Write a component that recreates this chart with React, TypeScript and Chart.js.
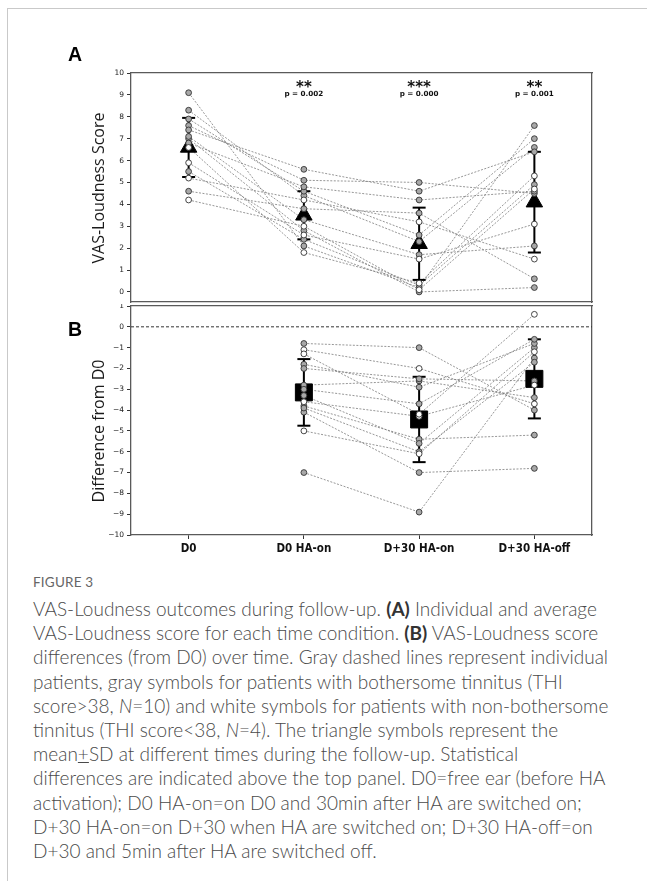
import React, { useEffect, useRef } from 'react';
import { Chart, registerables } from 'chart.js';

Chart.register(...registerables);

// ---------- data ----------
const categories = ['D0', 'D0 HA-on', 'D+30 HA-on', 'D+30 HA-off'];

// one entry per patient (N = 14); true = non-bothersome tinnitus (white symbols)
const nonBothersome = [false, false, false, false, true, false, false, false, false, false, true, false, true, true];

// Panel A : VAS-Loudness score
const vasD0 = [9.1, 4.6, 7.0, 7.1, 6.6, 8.3, 7.9, 7.6, 7.4, 6.8, 5.9, 5.5, 5.2, 4.2];
const vasD0HAon = [2.1, 3.8, 2.8, 3.3, 1.8, 4.4, 4.6, 5.1, 5.6, 4.8, 2.6, 2.4, 4.2, 3.0];
const vasD30HAon = [0.2, 3.6, 0.0, 1.7, 0.4, 2.3, 2.6, 5.0, 4.6, 4.2, 1.5, 0.3, 3.2, 0.1];
const vasD30HAoff = [7.6, 0.6, 0.2, 2.1, 5.3, 6.6, 7.0, 4.5, 6.4, 4.6, 3.1, 4.9, 1.5, 4.7];
const vasMean = [6.6, 3.5, 2.2, 4.1];
const vasSD = [1.35, 1.1, 1.65, 2.3];

// Panel B : difference from D0
const diffD0HAon = [-7.0, -0.8, -4.1, -3.8, -5.0, -3.9, -3.3, -2.8, -1.8, -2.0, -3.6, -3.0, -1.1, -1.3];
const diffD30HAon = [-8.9, -1.0, -7.0, -5.4, -6.1, -6.0, -5.6, -2.6, -2.9, -2.5, -4.3, -3.7, -2.0, -4.2];
const diffD30HAoff = [-1.5, -4.0, -6.8, -5.2, -1.2, -1.7, -1.0, -3.4, -0.8, -2.6, -2.8, -0.6, -3.7, 0.6];
const diffMean = [-3.15, -4.45, -2.5];
const diffSD = [1.6, 2.05, 1.9];

// statistics shown above panel A
const stars = ['', '**', '***', '**'];
const pValues = ['', 'p = 0.002', 'p = 0.000', 'p = 0.001'];

// axis ranges / ticks
const vasAxisMin = -0.46;
const vasAxisMax = 10;
const diffAxisMin = -10;
const diffAxisMax = 1;

// ---------- layout ----------
const W = 647;
const PLOT_LEFT = 131;
const PLOT_RIGHT = 592;
const A_TOP = 73;
const A_BOTTOM = 302;
const A_CANVAS_H = 304;
const B_CANVAS_TOP = 304;
const B_TOP = 306;
const B_BOTTOM = 535;
const B_CANVAS_H = 256;

const FRAME = '#5a5a5a';
const LINE_GRAY = '#7c7c7c';
const TICK_FONT = { family: '"DejaVu Sans", sans-serif', size: 7.5 };

const zeroPad = (s: any) => {
  s.paddingTop = 0;
  s.paddingBottom = 0;
  s.paddingLeft = 0;
  s.paddingRight = 0;
};

function patientLines(cols: number[][], xs: number[]) {
  return cols[0].map((_, i) => ({
    data: xs.map((x, j) => ({ x, y: cols[j][i] })),
    showLine: true,
    borderColor: LINE_GRAY,
    borderWidth: 0.8,
    borderDash: [2, 1.5],
    pointRadius: 0,
    pointHoverRadius: 0,
    xAxisID: 'x',
    yAxisID: 'y',
    order: 20,
  }));
}

function patientPoints(cols: number[][], xs: number[], white: boolean) {
  const data: { x: number; y: number }[] = [];
  cols.forEach((col, j) =>
    col.forEach((v, i) => {
      if (nonBothersome[i] === white) data.push({ x: xs[j], y: v });
    })
  );
  return {
    data,
    showLine: false,
    pointStyle: 'circle',
    pointRadius: 2.9,
    pointHoverRadius: 2.9,
    pointBackgroundColor: white ? '#ffffff' : '#a8a8a8',
    pointBorderColor: '#333333',
    pointBorderWidth: 0.9,
    xAxisID: 'x',
    yAxisID: 'y',
    order: white ? 0 : 1,
  };
}

function sdBars(means: number[], sds: number[], xs: number[]) {
  const data: { x: number; y: number | null }[] = [];
  means.forEach((m, j) => {
    data.push({ x: xs[j], y: m - sds[j] }, { x: xs[j], y: m + sds[j] }, { x: xs[j], y: null });
  });
  return {
    data,
    showLine: true,
    spanGaps: false,
    borderColor: '#000',
    borderWidth: 2,
    pointStyle: 'line',
    pointRadius: 6.5,
    pointHoverRadius: 6.5,
    pointBorderColor: '#000',
    pointBorderWidth: 2,
    xAxisID: 'x',
    yAxisID: 'y',
    order: 6,
  };
}

function meanMarkers(means: number[], xs: number[], style: string, radius: number) {
  return {
    data: means.map((m, j) => ({ x: xs[j], y: m })),
    showLine: false,
    pointStyle: style,
    pointRadius: radius,
    pointHoverRadius: radius,
    pointBackgroundColor: '#000',
    pointBorderColor: '#000',
    pointBorderWidth: 1,
    xAxisID: 'x',
    yAxisID: 'y',
    order: 5,
  };
}

function frameAxis(position: string, min: number, max: number) {
  return {
    type: 'linear',
    position,
    min,
    max,
    display: true,
    ticks: { display: false },
    grid: { display: false },
    border: { display: true, color: FRAME, width: 1.3 },
    afterFit: (s: any) => {
      if (position === 'top' || position === 'bottom') s.height = 0;
      else s.width = 0;
      zeroPad(s);
    },
  };
}

const categoryTicks = (axis: any) => {
  axis.ticks = categories.map((_, i) => ({ value: i }));
};

const pvalPlugin = {
  id: 'pvals',
  afterDatasetsDraw(chart: any) {
    const { ctx, chartArea } = chart;
    const x = chart.scales.x;
    ctx.save();
    ctx.fillStyle = '#111';
    ctx.textAlign = 'center';
    ctx.textBaseline = 'alphabetic';
    stars.forEach((s, i) => {
      if (!s) return;
      const px = x.getPixelForValue(i);
      ctx.font = 'bold 15px "DejaVu Sans"';
      ctx.fillText(s, px, chartArea.top + 19);
      ctx.font = 'bold 7.2px "DejaVu Sans"';
      ctx.fillText(pValues[i], px, chartArea.top + 22.5);
    });
    ctx.restore();
  },
};

function configA(): any {
  const xs = [0, 1, 2, 3];
  const cols = [vasD0, vasD0HAon, vasD30HAon, vasD30HAoff];
  return {
    type: 'scatter',
    data: {
      datasets: [
        ...patientLines(cols, xs),
        sdBars(vasMean, vasSD, xs),
        meanMarkers(vasMean, xs, 'triangle', 9.5),
        patientPoints(cols, xs, false),
        patientPoints(cols, xs, true),
      ],
    },
    options: {
      responsive: false,
      animation: false,
      events: [],
      layout: { autoPadding: false, padding: { top: A_TOP, right: W - PLOT_RIGHT, left: 0, bottom: 0 } },
      plugins: { legend: { display: false }, tooltip: { enabled: false } },
      scales: {
        x: {
          type: 'linear',
          position: 'bottom',
          min: -0.5,
          max: 3.5,
          afterBuildTicks: categoryTicks,
          ticks: { display: false },
          grid: { display: false },
          border: { display: true, color: FRAME, width: 1.3 },
          afterFit: (s: any) => {
            s.height = A_CANVAS_H - A_BOTTOM;
            zeroPad(s);
          },
        },
        xTop: frameAxis('top', -0.5, 3.5),
        y: {
          type: 'linear',
          position: 'left',
          min: vasAxisMin,
          max: vasAxisMax,
          ticks: { stepSize: 1, includeBounds: false, font: TICK_FONT, color: '#222', padding: 3 },
          grid: { display: true, drawOnChartArea: false, drawTicks: true, tickLength: 4, color: '#333', lineWidth: 1 },
          border: { display: true, color: FRAME, width: 1.3 },
          afterFit: (s: any) => {
            s.width = PLOT_LEFT;
            zeroPad(s);
          },
        },
        yRight: frameAxis('right', vasAxisMin, vasAxisMax),
      },
    },
    plugins: [pvalPlugin],
  };
}

function configB(): any {
  const xs = [1, 2, 3];
  const cols = [diffD0HAon, diffD30HAon, diffD30HAoff];
  return {
    type: 'scatter',
    data: {
      datasets: [
        {
          data: [
            { x: -0.5, y: 0 },
            { x: 3.5, y: 0 },
          ],
          showLine: true,
          borderColor: '#333',
          borderWidth: 1,
          borderDash: [3, 2],
          pointRadius: 0,
          pointHoverRadius: 0,
          xAxisID: 'x',
          yAxisID: 'y',
          order: 30,
        },
        ...patientLines(cols, xs),
        sdBars(diffMean, diffSD, xs),
        meanMarkers(diffMean, xs, 'rect', 12),
        patientPoints(cols, xs, false),
        patientPoints(cols, xs, true),
      ],
    },
    options: {
      responsive: false,
      animation: false,
      events: [],
      layout: { autoPadding: false, padding: { top: B_TOP - B_CANVAS_TOP, right: W - PLOT_RIGHT, left: 0, bottom: 0 } },
      plugins: { legend: { display: false }, tooltip: { enabled: false } },
      scales: {
        x: {
          type: 'linear',
          position: 'bottom',
          min: -0.5,
          max: 3.5,
          afterBuildTicks: categoryTicks,
          ticks: {
            display: true,
            autoSkip: false,
            maxRotation: 0,
            padding: 3,
            color: '#111',
            font: { family: '"Liberation Sans Narrow", "DejaVu Sans Condensed", "Liberation Sans", sans-serif', size: 11.5, weight: 'bold' },
            callback: (v: any) => categories[v] ?? '',
          },
          grid: { display: true, drawOnChartArea: false, drawTicks: true, tickLength: 4, color: '#333', lineWidth: 1 },
          border: { display: true, color: FRAME, width: 1.3 },
          afterFit: (s: any) => {
            s.height = B_CANVAS_TOP + B_CANVAS_H - B_BOTTOM;
            zeroPad(s);
          },
        },
        xTop: frameAxis('top', -0.5, 3.5),
        y: {
          type: 'linear',
          position: 'left',
          min: diffAxisMin,
          max: diffAxisMax,
          ticks: {
            stepSize: 1,
            font: TICK_FONT,
            color: '#222',
            padding: 3,
            callback: (v: any) => (v < 0 ? '\u2212' + Math.abs(v) : String(v)),
          },
          grid: { display: true, drawOnChartArea: false, drawTicks: true, tickLength: 4, color: '#333', lineWidth: 1 },
          border: { display: true, color: FRAME, width: 1.3 },
          afterFit: (s: any) => {
            s.width = PLOT_LEFT;
            zeroPad(s);
          },
        },
        yRight: frameAxis('right', diffAxisMin, diffAxisMax),
      },
    },
  };
}

function ChartCanvas({ config, top, height }: { config: () => any; top: number; height: number }) {
  const ref = useRef<HTMLCanvasElement | null>(null);
  useEffect(() => {
    if (!ref.current) return;
    const chart = new Chart(ref.current, config());
    return () => chart.destroy();
  }, [config]);
  return (
    <canvas
      ref={ref}
      width={W}
      height={height}
      style={{ position: 'absolute', left: 0, top, width: W, height, display: 'block' }}
    />
  );
}

const captionLines: { t: string; b?: boolean; i?: boolean; u?: boolean }[][] = [
  [{ t: 'VAS-Loudness outcomes during follow-up. ' }, { t: '(A)', b: true }, { t: ' Individual and average' }],
  [{ t: 'VAS-Loudness score for each time condition. ' }, { t: '(B)', b: true }, { t: ' VAS-Loudness score' }],
  [{ t: 'differences (from D0) over time. Gray dashed lines represent individual' }],
  [{ t: 'patients, gray symbols for patients with bothersome tinnitus (THI' }],
  [{ t: 'score>38, ' }, { t: 'N', i: true }, { t: '=10) and white symbols for patients with non-bothersome' }],
  [{ t: 'tinnitus (THI score<38, ' }, { t: 'N', i: true }, { t: '=4). The triangle symbols represent the' }],
  [{ t: 'mean' }, { t: '+', u: true }, { t: 'SD at different times during the follow-up. Statistical' }],
  [{ t: 'differences are indicated above the top panel. D0=free ear (before HA' }],
  [{ t: 'activation); D0 HA-on=on D0 and 30min after HA are switched on;' }],
  [{ t: 'D+30 HA-on=on D+30 when HA are switched on; D+30 HA-off=on' }],
  [{ t: 'D+30 and 5min after HA are switched off.' }],
];

const yTitleStyle: React.CSSProperties = {
  position: 'absolute',
  left: 98,
  transform: 'translate(-50%, -50%) rotate(-90deg)',
  whiteSpace: 'nowrap',
  fontFamily: '"Open Sans", sans-serif',
  fontSize: 16,
  lineHeight: '16px',
  color: '#1a1a1a',
};

const letterStyle: React.CSSProperties = {
  position: 'absolute',
  left: 68,
  fontFamily: '"Liberation Sans", Arial, sans-serif',
  fontWeight: 'bold',
  fontSize: 19.5,
  lineHeight: '19.5px',
  color: '#000',
};

export default function App() {
  return (
    <div
      style={{
        position: 'absolute',
        left: 0,
        top: 0,
        width: W,
        height: 881,
        overflow: 'hidden',
        background: '#fff',
      }}
    >
      <div
        style={{
          position: 'absolute',
          left: 7,
          top: 8,
          width: W,
          height: 900,
          borderLeft: '1px solid #c9c9c9',
          borderTop: '1px solid #c9c9c9',
        }}
      />
      <ChartCanvas config={configA} top={0} height={A_CANVAS_H} />
      <ChartCanvas config={configB} top={B_CANVAS_TOP} height={B_CANVAS_H} />
      <div style={{ ...letterStyle, top: 44.7 }}>A</div>
      <div style={{ ...letterStyle, top: 319.5 }}>B</div>
      <div style={{ ...yTitleStyle, top: 187.5 }}>VAS-Loudness Score</div>
      <div style={{ ...yTitleStyle, top: 431 }}>Difference from D0</div>
      <div
        style={{
          position: 'absolute',
          left: 33,
          top: 574,
          fontFamily: 'Lato, "Open Sans", sans-serif',
          fontSize: 13.5,
          lineHeight: '16px',
          color: '#666',
          letterSpacing: 0.2,
        }}
      >
        FIGURE 3
      </div>
      <div
        style={{
          position: 'absolute',
          left: 33,
          top: 597,
          fontFamily: 'Lato, "Open Sans", sans-serif',
          fontWeight: 300,
          fontSize: 19,
          color: '#4a4a4a',
        }}
      >
        {captionLines.map((line, k) => (
          <div key={k} style={{ whiteSpace: 'nowrap', height: 24.2, lineHeight: '24.2px' }}>
            {line.map((seg, m) => (
              <span
                key={m}
                style={{
                  fontWeight: seg.b ? 700 : undefined,
                  fontStyle: seg.i ? 'italic' : undefined,
                  textDecoration: seg.u ? 'underline' : undefined,
                  color: seg.b ? '#333' : undefined,
                }}
              >
                {seg.t}
              </span>
            ))}
          </div>
        ))}
      </div>
    </div>
  );
}
